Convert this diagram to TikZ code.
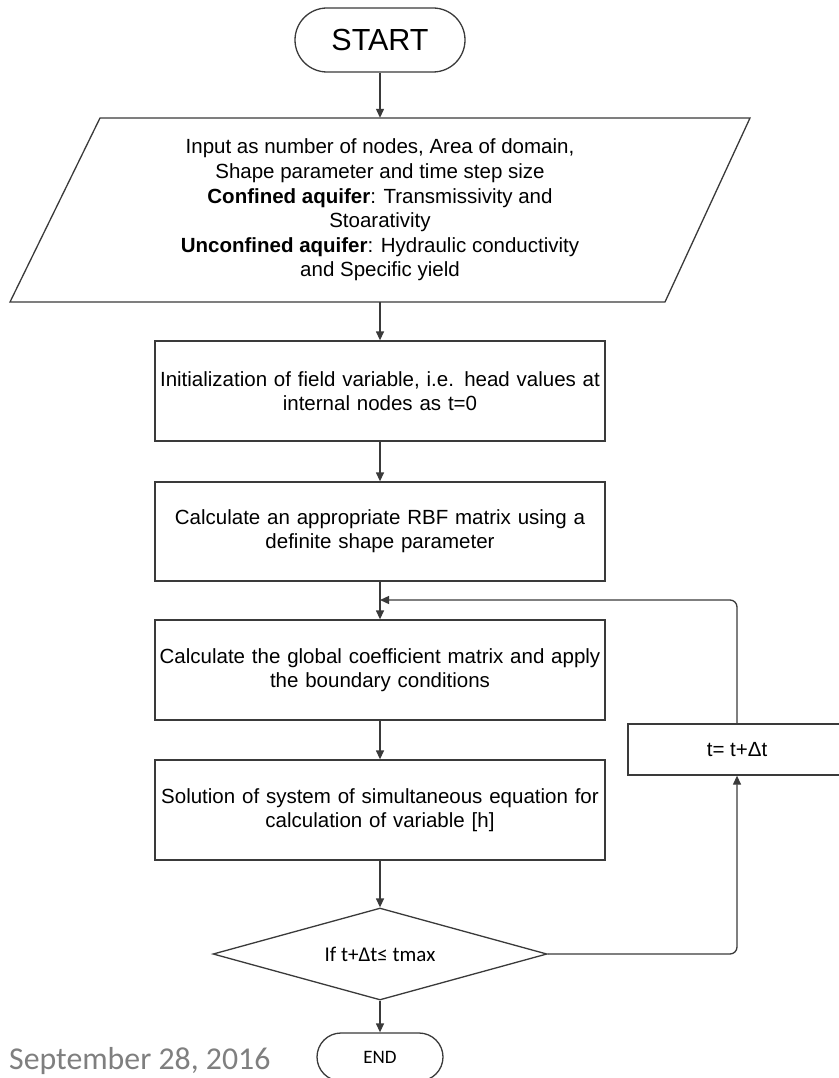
\documentclass[tikz,border=0pt]{standalone}
\usepackage{fontspec}
\setmainfont{Liberation Sans}
\newfontfamily\califont{Carlito}
\usetikzlibrary{shapes.geometric,arrows.meta}
\definecolor{linec}{HTML}{3A3A3A}
\definecolor{dategray}{HTML}{7F7F7F}
\tikzset{
  base/.style={draw=linec, line width=1.3pt, fill=white, text=black, align=center, inner sep=0pt},
  procbox/.style={base, rectangle, minimum width=450, minimum height=100, text width=445,
    font=\fontsize{20.5}{24}\selectfont},
  term/.style={base, rectangle},
  conn/.style={draw=linec, line width=1.3pt, -{Triangle[length=9pt,width=8pt]}},
}
\begin{document}
\begin{tikzpicture}[x=1pt,y=-1pt]
\useasboundingbox (0,0) rectangle (838,1078);
% start
\node[term, rounded corners=32, minimum width=170, minimum height=64,
  font=\fontsize{30.5}{34}\selectfont] (start) at (380,40) {START};
% input parallelogram
\draw[draw=linec, line width=1.3pt, fill=white] (100,118) -- (750,118) -- (665,302) -- (10,302) -- cycle;
\node[rectangle, minimum width=560, minimum height=184, inner sep=0pt, align=center,
  font=\fontsize{20.5}{24.6}\selectfont] (input) at (380,210)
  {Input as number of nodes, Area of domain,\\Shape parameter and time step size\\
   \textbf{Confined aquifer}: Transmissivity and\\Stoarativity\\
   \textbf{Unconfined aquifer}: Hydraulic conductivity\\and Specific yield};
% process boxes
\node[procbox] (init) at (380,391) {Initialization of field variable, i.e. head values at\\internal nodes as t=0};
\node[procbox, minimum height=99] (rbf) at (380,531.5) {Calculate an appropriate RBF matrix using a\\definite shape parameter};
\node[procbox] (glob) at (380,670) {Calculate the global coefficient matrix and apply\\the boundary conditions};
\node[procbox] (solve) at (380,810) {Solution of system of simultaneous equation for\\calculation of variable [h]};
% decision
\node[base, diamond, minimum width=334, minimum height=92, aspect=3.6,
  font=\califont\fontsize{21}{24}\selectfont] (dec) at (380,954) {If t+Δt≤ tmax};
% end
\node[term, rounded corners=24, minimum width=126, minimum height=48,
  font=\califont\fontsize{19}{22}\selectfont] (end) at (380,1057) {END};
% increment box
\node[term, minimum width=218, minimum height=51, font=\fontsize{20.5}{24}\selectfont] (inc) at (737,749.5) {t= t+Δt};
\coordinate (loopin) at (380,600);
% date
\node[font=\califont\fontsize{31.8}{36}\selectfont, text=dategray, anchor=base west, inner sep=0pt] (date) at (9,1069) {September 28, 2016};
% connectors
\draw[conn] (start) -- (input.north);
\draw[conn] (input.south) -- (init);
\draw[conn] (init) -- (rbf);
\draw[conn] (rbf) -- (glob);
\draw[conn] (glob) -- (solve);
\draw[conn] (solve) -- (dec);
\draw[conn] (dec) -- (end);
\draw[conn, rounded corners=7] (dec.east) -| (inc.south);
\draw[conn, rounded corners=7] (inc.north) |- (loopin);
\end{tikzpicture}
\end{document}
